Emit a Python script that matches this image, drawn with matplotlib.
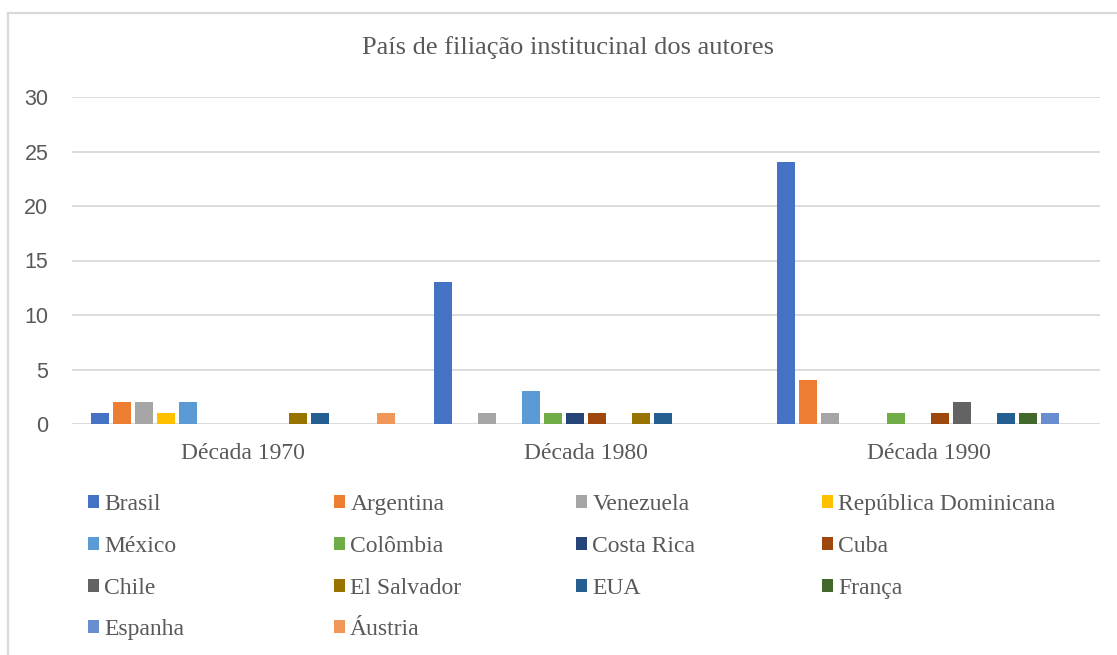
import numpy as np
import matplotlib
matplotlib.use('Agg')
import matplotlib.pyplot as plt
from matplotlib.patches import Patch
from matplotlib.lines import Line2D

DECADES = ["Década 1970", "Década 1980", "Década 1990"]

COUNTRIES = ["Brasil", "Argentina", "Venezuela", "República Dominicana",
             "México", "Colômbia", "Costa Rica", "Cuba",
             "Chile", "El Salvador", "EUA", "França",
             "Espanha", "Áustria"]

# number of authors per country, one value per decade
BRASIL      = [1, 13, 24]
ARGENTINA   = [2, 0, 4]
VENEZUELA   = [2, 1, 1]
REP_DOM     = [1, 0, 0]
MEXICO      = [2, 3, 0]
COLOMBIA    = [0, 1, 1]
COSTA_RICA  = [0, 1, 0]
CUBA        = [0, 1, 1]
CHILE       = [0, 0, 2]
EL_SALVADOR = [1, 1, 0]
EUA         = [1, 1, 1]
FRANCA      = [0, 0, 1]
ESPANHA     = [0, 0, 1]
AUSTRIA     = [1, 0, 0]

SERIES = [BRASIL, ARGENTINA, VENEZUELA, REP_DOM, MEXICO, COLOMBIA,
          COSTA_RICA, CUBA, CHILE, EL_SALVADOR, EUA, FRANCA, ESPANHA, AUSTRIA]

COLORS = ['#4472C4', '#ED7D31', '#A5A5A5', '#FFC000', '#5B9BD5', '#70AD47',
          '#264478', '#9E480E', '#636363', '#997300', '#255E91', '#43682B',
          '#698ED0', '#F1975A']

GRID = '#D9D9D9'
TXT = '#595959'
SERIF = 'Liberation Serif'
SANS = 'Liberation Sans'

W, H = 1117, 655
fig = plt.figure(figsize=(W / 100, H / 100), dpi=100)

# axes placed by pixel box: x 72..1100, y 97..424
ax = fig.add_axes([72 / W, 1 - 424 / H, (1100 - 72) / W, (424 - 97) / H])

x = np.arange(len(DECADES))
step = 22 / (1028 / 3)
width = 18 / (1028 / 3)
n = len(SERIES)
for i, (vals, color) in enumerate(zip(SERIES, COLORS)):
    ax.bar(x + (i - (n - 1) / 2) * step, vals, width=width, color=color,
           linewidth=0, zorder=3)

ax.set_xlim(-0.5, len(DECADES) - 0.5)
ax.set_ylim(0, 30)
ax.set_yticks(range(0, 31, 5))
ax.set_xticks(x)
ax.set_xticklabels(DECADES, fontsize=17, family=SERIF, color=TXT)
for lab in ax.get_yticklabels():
    lab.set_fontsize(15.5)
    lab.set_family(SANS)
    lab.set_color(TXT)
ax.tick_params(axis='both', length=0)
ax.tick_params(axis='y', pad=17)
ax.tick_params(axis='x', pad=14)
ax.grid(axis='y', color=GRID, linewidth=1.3, zorder=0)
for s in ax.spines.values():
    s.set_visible(False)

fig.text(568 / W, 1 - 48 / H, "País de filiação institucinal dos autores",
         ha='center', va='center', fontsize=19, family=SERIF, color=TXT)

# legend, row-major like the original, one legend per column
ncol = 4
col_x = [88, 334, 576, 822]
for c in range(ncol):
    idx = list(range(c, n, ncol))
    handles = [Patch(facecolor=COLORS[k], edgecolor='none') for k in idx]
    labels = [COUNTRIES[k] for k in idx]
    fig.legend(handles, labels, loc='upper left',
               bbox_to_anchor=(col_x[c] / W, 1 - 494 / H),
               frameon=False, ncol=1, prop={'family': SERIF, 'size': 17},
               labelcolor=TXT, handlelength=0.47, handleheight=0.47,
               handletextpad=0.22, labelspacing=0.88, borderpad=0,
               borderaxespad=0)

# chart-area border (only the left and top edges fall inside the picture)
fig.add_artist(Line2D([8 / W, 8 / W], [0, 1 - 13 / H], color=GRID, linewidth=1.6))
fig.add_artist(Line2D([8 / W, 1], [1 - 13 / H, 1 - 13 / H], color=GRID, linewidth=1.6))

fig.savefig('out.png', dpi=100)
